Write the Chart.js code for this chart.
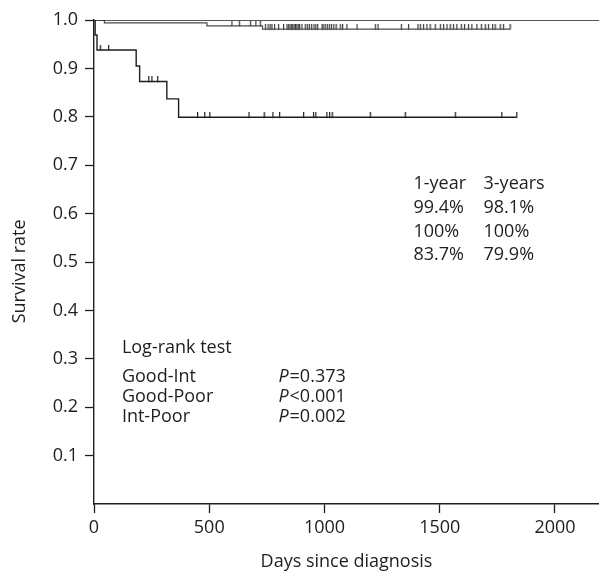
<!DOCTYPE html>
<html>
<head>
<meta charset="utf-8">
<script src="https://cdn.jsdelivr.net/npm/chart.js@4/dist/chart.umd.min.js"></script>
<style>
  html, body { margin: 0; padding: 0; background: #fff; }
  #wrap { width: 599px; height: 573px; }
</style>
</head>
<body>
<div id="wrap"><canvas id="km" width="599" height="573"></canvas></div>
<script>
// Kaplan-Meier survival by group (days since diagnosis)

// step curves: time of each step and survival after it
const goodTimes = [0, 45, 490, 731, 1805];
const goodSurv  = [1.0, 0.994, 0.988, 0.981, 0.981];

const intTimes = [0, 2200];
const intSurv  = [1.0, 1.0];

const poorTimes = [0, 5, 13, 183, 198, 316, 367, 1834];
const poorSurv  = [1.0, 0.969, 0.938, 0.905, 0.873, 0.837, 0.799, 0.799];

// censored observations
const goodCensor = [598, 630, 678, 702, 721, 743, 755, 764, 772, 783, 800, 822, 837,
  843, 850, 856, 862, 868, 874, 880, 886, 892, 902, 916, 925, 934, 944, 954, 962, 970,
  989, 994, 1003, 1012, 1021, 1030, 1040, 1050, 1068, 1078, 1097, 1141, 1220, 1232,
  1333, 1364, 1405, 1415, 1429, 1444, 1458, 1480, 1502, 1516, 1531, 1545, 1559, 1574,
  1593, 1607, 1624, 1639, 1661, 1680, 1697, 1711, 1729, 1740, 1762, 1776, 1805];
const poorCensor = [27, 63, 237, 251, 276, 449, 480, 502, 672, 738, 776, 805, 909,
  952, 962, 1010, 1022, 1033, 1198, 1350, 1567, 1769, 1834];

const xTickValues = [0, 500, 1000, 1500, 2000];

// annotation texts
const tableHead = ['1-year', '3-years'];
const tableRows = [['99.4%', '98.1%'], ['100%', '100%'], ['83.7%', '79.9%']];
const logRankTitle = 'Log-rank test';
const logRankPairs = ['Good-Int', 'Good-Poor', 'Int-Poor'];
const logRankP = ['=0.373', '<0.001', '=0.002'];

const xTitle = 'Days since diagnosis';
const yTitle = 'Survival rate    '; // trailing spaces nudge it down a bit

const INK = '#1e1e1e';
const FONT = "'Open Sans', 'Noto Sans', sans-serif";
const FS = 18;

// survival value at time t from a step curve
function survAt(times, surv, t) {
    let s = surv[0];
    for (let i = 0; i < times.length; i++) {
        if (times[i] <= t) s = surv[i];
    }
    return s;
}

function curve(times, surv) {
    return times.map((t, i) => ({ x: t, y: surv[i] }));
}

function censorPts(list, times, surv) {
    return list.map(t => ({ x: t, y: survAt(times, surv, t) }));
}

// censor mark: short vertical tick standing on the line
function makeTick(color) {
    const c = document.createElement('canvas');
    c.width = 3; c.height = 10;
    const g = c.getContext('2d');
    g.fillStyle = color;
    g.fillRect(1, 0, 1.2, 5.5);
    return c;
}
const tickGood = makeTick('#3a3a3a');
const tickPoor = makeTick(INK);

const textPlugin = {
    id: 'kmText',
    afterDatasetsDraw(chart) {
        const { ctx, scales: { x, y } } = chart;
        ctx.save();
        ctx.fillStyle = INK;
        ctx.textBaseline = 'middle';
        ctx.textAlign = 'left';
        const plain = FS + 'px ' + FONT;
        ctx.font = plain;

        // survival table
        const c1 = x.getPixelForValue(1386), c2 = x.getPixelForValue(1690);
        const rowY = [0.662, 0.612, 0.562, 0.514].map(v => y.getPixelForValue(v));
        ctx.fillText(tableHead[0], c1, rowY[0]);
        ctx.fillText(tableHead[1], c2, rowY[0]);
        tableRows.forEach((r, i) => {
            ctx.fillText(r[0], c1, rowY[i + 1]);
            ctx.fillText(r[1], c2, rowY[i + 1]);
        });

        // log-rank block
        const l1 = x.getPixelForValue(121), l2 = x.getPixelForValue(800);
        ctx.fillText(logRankTitle, l1, y.getPixelForValue(0.322));
        const pY = [0.263, 0.222, 0.179].map(v => y.getPixelForValue(v));
        logRankPairs.forEach((p, i) => {
            ctx.font = plain;
            ctx.fillText(p, l1, pY[i]);
            ctx.font = 'italic ' + plain;
            ctx.fillText('P', l2, pY[i]);
            const w = ctx.measureText('P').width;
            ctx.font = plain;
            ctx.fillText(logRankP[i], l2 + w + 1, pY[i]);
        });
        ctx.restore();
    }
};

const lineDs = (label, times, surv, color, width) => ({
    label,
    data: curve(times, surv),
    showLine: true,
    stepped: 'before',
    borderColor: color,
    borderWidth: width,
    pointRadius: 0,
    fill: false
});

new Chart(document.getElementById('km'), {
    type: 'scatter',
    data: {
        datasets: [
            lineDs('Int', intTimes, intSurv, INK, 1.4),
            lineDs('Good', goodTimes, goodSurv, '#4a4a4a', 1.2),
            lineDs('Poor', poorTimes, poorSurv, INK, 1.4),
            {
                label: 'Good censored',
                data: censorPts(goodCensor, goodTimes, goodSurv),
                showLine: false,
                pointStyle: tickGood,
                pointRadius: 3
            },
            {
                label: 'Poor censored',
                data: censorPts(poorCensor, poorTimes, poorSurv),
                showLine: false,
                pointStyle: tickPoor,
                pointRadius: 3
            }
        ]
    },
    options: {
        responsive: false,
        animation: false,
        devicePixelRatio: 1,
        layout: { autoPadding: false, padding: { top: 20, left: 0, right: 0, bottom: 0 } },
        plugins: { legend: { display: false }, tooltip: { enabled: false } },
        scales: {
            x: {
                type: 'linear',
                min: 0,
                max: 2191,
                afterFit: s => { s.height = 69; s.paddingLeft = 0; s.paddingRight = 0; },
                afterBuildTicks: s => { s.ticks = xTickValues.map(v => ({ value: v })); },
                border: { color: INK, width: 1.4 },
                grid: { drawOnChartArea: false, tickLength: 9, color: INK, tickWidth: 1.3 },
                ticks: {
                    padding: 4,
                    color: INK,
                    font: { family: FONT, size: FS },
                    callback: v => String(v)
                },
                title: {
                    display: true,
                    text: xTitle,
                    color: INK,
                    font: { family: FONT, size: FS },
                    padding: { top: 0, bottom: 0 }
                }
            },
            y: {
                min: 0,
                max: 1,
                afterFit: s => { s.width = 94; },
                border: { color: INK, width: 1.4 },
                grid: {
                    drawOnChartArea: false,
                    tickLength: 9,
                    tickWidth: 1.3,
                    color: INK,
                    tickColor: c => (c.tick && c.tick.value === 0) ? 'rgba(0,0,0,0)' : INK
                },
                ticks: {
                    stepSize: 0.1,
                    padding: 7,
                    color: INK,
                    font: { family: FONT, size: FS },
                    callback: v => v === 0 ? '' : v.toFixed(1)
                },
                title: {
                    display: true,
                    text: yTitle,
                    color: INK,
                    font: { family: FONT, size: FS },
                    padding: { top: 9, bottom: 0 }
                }
            }
        }
    },
    plugins: [textPlugin]
});
</script>
</body>
</html>
